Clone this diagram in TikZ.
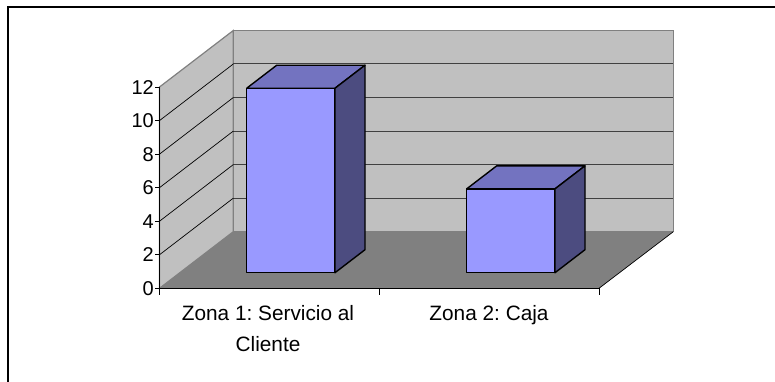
\documentclass[tikz,border=0pt]{standalone}
\usepackage{fontspec}
\setmainfont{Liberation Sans}
\frenchspacing
\definecolor{wallgray}{HTML}{C0C0C0}
\definecolor{edgegray}{HTML}{808080}
\definecolor{floorgray}{HTML}{808080}
\definecolor{barfront}{HTML}{9999FF}
\definecolor{bartop}{HTML}{7373C0}
\definecolor{barside}{HTML}{4C4C80}
\begin{document}
\begin{tikzpicture}[
            x=1pt, y=-1pt,
            wall/.style={fill=wallgray, draw=edgegray, line width=1.2pt},
            floorpane/.style={fill=floorgray},
            gridline/.style={draw=black!75, line width=1pt},
            sidegrid/.style={draw=black, line width=0.7pt},
            axis/.style={draw=black, line width=0.9pt},
            barface/.style={draw=black, line width=1.4pt, line join=round},
            ticklabel/.style={font=\fontsize{20}{23}\selectfont, inner sep=0pt, anchor=east},
            catlabel/.style={font=\fontsize{20.8}{31}\selectfont, inner sep=0pt, anchor=north, align=center}
            ]
            \useasboundingbox (0,0) rectangle (775,382);
            \draw[line width=2pt] (7.5,382) -- (7.5,7.5) -- (775,7.5);
            % walls and floor
            \coordinate (o) at (159.5,288.3);
            \coordinate (xend) at (599,288.3);
            \coordinate (bo) at (233.3,231.7);
            \coordinate (bend) at (673.3,231.7);
            \path[wall] (o) -- (159.5,87) -- (233.3,30.5) -- (bo) -- cycle;
            \path[wall] (bo) -- (233.3,30.5) -- (673.3,30.5) -- (bend) -- cycle;
            \path[floorpane] (o) -- (bo) -- (bend) -- (xend) -- cycle;
            \draw[sidegrid] (xend) -- (bend);
            \foreach \v in {2,4,...,10} {
                \pgfmathsetmacro{\yf}{288.3-\v*16.77}
                \pgfmathsetmacro{\yb}{231.7-\v*16.77}
                \draw[gridline] (233.3,\yb) -- (673.3,\yb);
                \draw[sidegrid] (159.5,\yf) -- (233.3,\yb);
            }
            % axes
            \draw[axis] (159.5,87) -- (o) -- (xend);
            \foreach \v in {0,2,...,12} {
                \pgfmathsetmacro{\yf}{288.3-\v*16.77}
                \draw[axis] (155,\yf) -- (159.5,\yf);
                \node[ticklabel] (t\v) at (154,\yf) {\v};
            }
            \foreach \xt in {159.5,379.3,599} {
                \draw[axis] (\xt,288.3) -- (\xt,295);
            }
            % bars
            \foreach \xb/\v in {246.7/11, 466.7/5} {
                \pgfmathsetmacro{\yt}{272.7-\v*16.77}
                \pgfmathsetmacro{\xr}{\xb+88.3}
                \filldraw[barface, fill=barfront] (\xb,272.7) rectangle (\xr,\yt);
                \filldraw[barface, fill=bartop] (\xb,\yt) -- ++(30,-23) -- ++(88.3,0) -- (\xr,\yt) -- cycle;
                \filldraw[barface, fill=barside] (\xr,\yt) -- ++(30,-23) -- (\xr+30,249.7) -- (\xr,272.7) -- cycle;
            }
            % category labels
            \node[catlabel] (zona1) at (268,305.5) {Zona 1: Servicio al\\Cliente};
            \node[catlabel] (zona2) at (489,305.5) {Zona 2: Caja};
        \end{tikzpicture}
\end{document}
